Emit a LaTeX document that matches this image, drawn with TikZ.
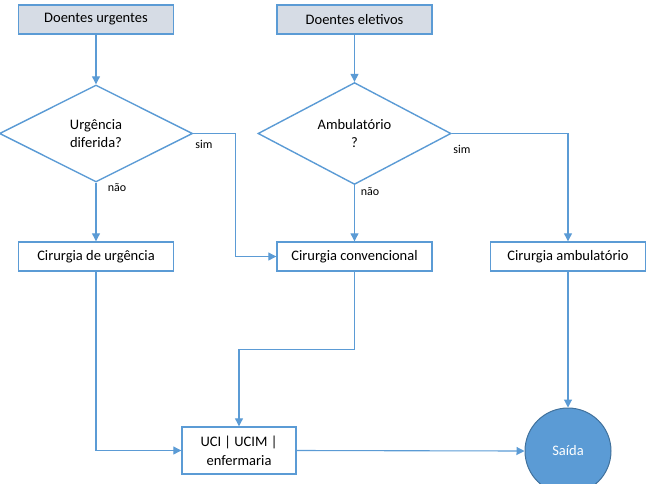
\documentclass[tikz,border=0pt]{standalone}
\usepackage{fontspec}
\setmainfont{Carlito}
\usetikzlibrary{shapes.geometric, arrows.meta}

\definecolor{linha}{HTML}{5B9BD5}
\definecolor{fundo}{HTML}{D6DCE5}
\definecolor{borda}{HTML}{41719C}

\begin{document}
\begin{tikzpicture}[x=1pt, y=-1pt,
	caixa/.style = {draw=linha, line width=1.4pt, fill=white, minimum width=155pt, minimum height=29pt, inner sep=0pt, font=\fontsize{14.5}{17}\selectfont},
	entrada/.style = {caixa, fill=fundo},
	decisao/.style = {diamond, draw=linha, line width=1.4pt, minimum width=193pt, minimum height=97pt, inner sep=0pt, align=center, font=\fontsize{14.5}{18}\selectfont},
	seta/.style = {draw=linha, line width=1.1pt, -{Triangle[length=8pt, width=8pt]}},
	rotulo/.style = {font=\fontsize{12}{14}\selectfont, inner sep=0pt}
	]
	% Limites
	\useasboundingbox (0,0) rectangle (651,483);

	% Entradas
	\node[entrada] (du) at (96,19.5) {Doentes urgentes};
	\node[entrada] (de) at (354.5,19.5) {Doentes eletivos};

	% Decisoes
	\node[decisao] (d1) at (96,133.5) {Urgência\\diferida?};
	\node[decisao] (d2) at (354.5,133.5) {Ambulatório\\?};

	% Cirurgias
	\node[caixa] (cu) at (96,256.5) {Cirurgia de urgência};
	\node[caixa] (cc) at (354.5,256.5) {Cirurgia convencional};
	\node[caixa] (ca) at (568,256.5) {Cirurgia ambulatório};

	% Destinos
	\node[caixa, minimum width=114pt, minimum height=47pt, align=center, font=\fontsize{14.5}{19}\selectfont] (uci) at (239,450.5) {UCI | UCIM |\\enfermaria};
	\node[circle, draw=borda, line width=1pt, fill=linha, minimum size=86pt, text=white, font=\fontsize{14.5}{17}\selectfont] (saida) at (568,451) {Saída};

	% Ligacoes
	\draw[seta] (du) -- (d1);
	\draw[seta] (de) -- (d2);
	\draw[seta] (d1.south) -- (cu.north);
	\draw[seta] (d2.south) -- (cc.north);
	\draw[seta] (d1.east) -- ++(42,0) |- (cc.west);
	\draw[seta] (d2.east) -| (ca.north);
	\draw[seta] (cu.south) |- (uci.west);
	\draw[seta] (cc.south) -- ++(0,78) -| (uci.north);
	\draw[seta] (ca.south) -- (saida.north);
	\draw[seta] (uci.east) -- (saida.west);

	% Rotulos
	\node[rotulo] (s1) at (204,144) {sim};
	\node[rotulo] (n1) at (117,188) {não};
	\node[rotulo] (s2) at (462,149) {sim};
	\node[rotulo] (n2) at (370,192) {não};
\end{tikzpicture}
\end{document}
